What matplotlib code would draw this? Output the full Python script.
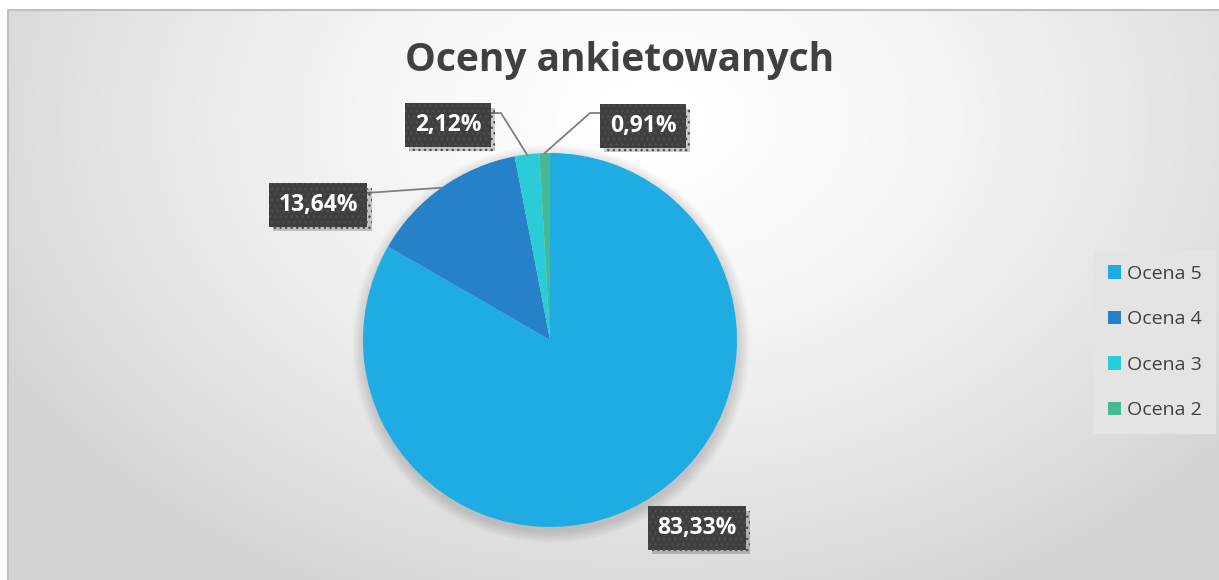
import matplotlib
matplotlib.use("Agg")
import matplotlib.pyplot as plt
import matplotlib.patheffects as pe
import numpy as np

# data
categories = ["Ocena 5", "Ocena 4", "Ocena 3", "Ocena 2"]
shares = [83.33, 13.64, 2.12, 0.91]
colors = ["#1FACE3", "#2681C8", "#2ACCD8", "#44B994"]
# label box centres (pixels, from top-left)
label_pos = [(697, 528), (318, 205), (448, 125), (643, 126)]

W, H = 1219, 580
plt.rcParams['font.family'] = ['Open Sans', 'DejaVu Sans']
plt.rcParams['hatch.linewidth'] = 1.0

fig = plt.figure(figsize=(W / 100, H / 100), dpi=100)
fig.patch.set_facecolor("white")
ax = fig.add_axes([0, 0, 1, 1])
ax.set_xlim(0, W)
ax.set_ylim(0, H)
ax.axis("off")

# background with radial gradient
x0, y0 = 8, 10
xx, yy = np.meshgrid(np.arange(x0, W), np.arange(y0, H))
d = np.sqrt(((xx - 650) / 700.0) ** 2 + ((yy - 120) / 500.0) ** 2)
d = np.clip(d, 0, 1.05)
g = (255 - 40 * d ** 1.5) / 255.0
ax.imshow(np.dstack([g, g, g]), extent=(x0, W, 0, H - y0), origin="upper",
          zorder=0, aspect="auto")
ax.plot([x0, x0, W], [0, H - y0, H - y0], color="#bfbfbf", lw=1.5, zorder=1)

# pie
cx, cy, r = 550, H - 340, 187
for k in range(12):
    c = plt.Circle((cx + 1, cy - 4), r + 1 + k, color="black", alpha=0.012, lw=0, zorder=2)
    ax.add_patch(c)
wedges, _ = ax.pie(shares, colors=colors, startangle=90, counterclock=False,
                   center=(cx, cy), radius=r, frame=True,
                   wedgeprops=dict(linewidth=0, zorder=3))
ax.set_xlim(0, W)
ax.set_ylim(0, H)
ax.set_aspect("auto")
ax.axis("off")

# labels
for i, (w, v) in enumerate(zip(wedges, shares)):
    lx, ly = label_pos[i]
    ly = H - ly
    txt = f"{v:.2f}%".replace(".", ",")
    ang = np.deg2rad((w.theta1 + w.theta2) / 2)
    ex, ey = cx + r * np.cos(ang), cy + r * np.sin(ang)
    if i == 1:
        ax.plot([lx + 48, ex], [ly + 12, ey], color="#7f7f7f", lw=1.3, zorder=4)
    elif i == 2:
        ax.plot([lx + 42, lx + 53, ex], [ly + 12, ly + 12, ey], color="#7f7f7f", lw=1.3, zorder=4)
    elif i == 3:
        ax.plot([lx - 42, lx - 53, ex], [ly + 13, ly + 13, ey], color="#7f7f7f", lw=1.3, zorder=4)
    t = ax.text(lx, ly, txt, ha="center", va="center", fontsize=16.5,
                fontweight="bold", color="white", zorder=6,
                bbox=dict(boxstyle="square,pad=0.42", facecolor="#3f3f3f",
                          edgecolor="#4f4f4f", lw=0, hatch="..."))
    t.get_bbox_patch().set_path_effects([
        pe.SimplePatchShadow(offset=(3, -3), shadow_rgbFace="black", alpha=0.2),
        pe.Normal()])

# title
fig.text(620 / W, 1 - 61 / H, "Oceny ankietowanych", ha="center", va="center",
         fontsize=28, fontweight="bold", color="#404040")

# legend
leg = ax.legend(wedges, categories, loc="upper left",
                bbox_to_anchor=(1093 / W, 1 - 250 / H), bbox_transform=fig.transFigure,
                fontsize=14, frameon=True, fancybox=False, labelspacing=1.42,
                handlelength=0.7, handleheight=0.7, handletextpad=0.3,
                borderpad=0.75, borderaxespad=0)
leg.get_frame().set_facecolor("#e4e4e4")
leg.get_frame().set_edgecolor("none")
leg.get_frame().set_alpha(1)
for t in leg.get_texts():
    t.set_color("#404040")

fig.savefig("out.png", dpi=100)
